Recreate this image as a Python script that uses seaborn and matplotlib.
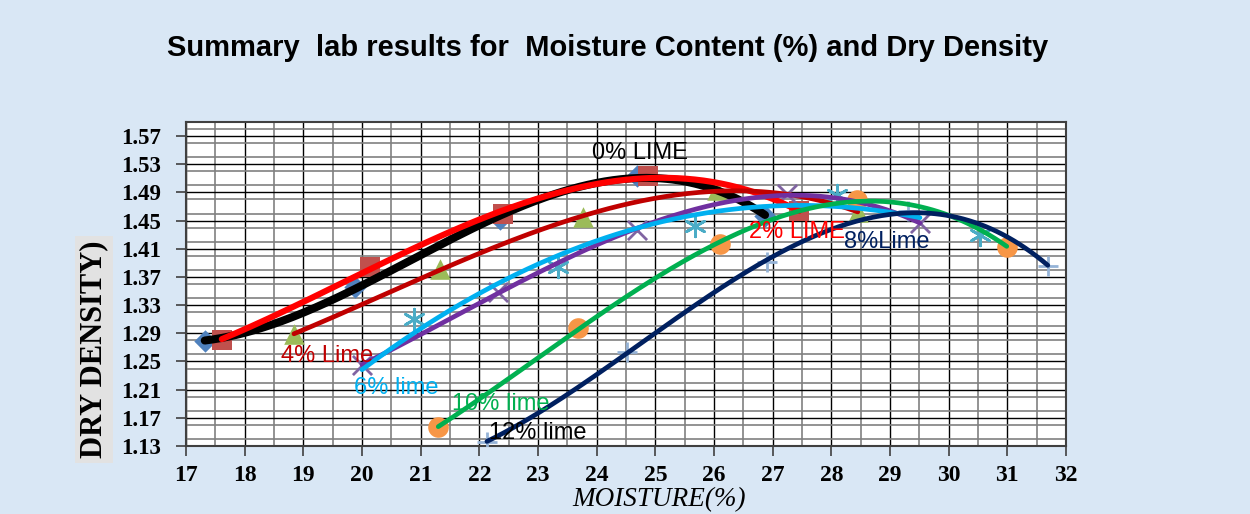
import numpy as np
import pandas as pd
import matplotlib
matplotlib.use("Agg")
import matplotlib.pyplot as plt
import seaborn as sns
from matplotlib.ticker import FixedLocator, MultipleLocator

# ---- lab results: moisture content (%) vs dry density ----
lime0_moist = [17.32, 19.88, 22.35, 24.69, 26.87]
lime0_dens = [1.279, 1.356, 1.452, 1.514, 1.457]

lime2_moist = [17.61, 20.14, 22.40, 24.87, 27.45]
lime2_dens = [1.281, 1.384, 1.460, 1.513, 1.463]

lime4_moist = [18.84, 21.33, 23.77, 26.05, 28.45]
lime4_dens = [1.289, 1.381, 1.455, 1.493, 1.462]

lime6_moist = [20.00, 22.32, 24.69, 27.25, 29.51]
lime6_dens = [1.245, 1.349, 1.436, 1.488, 1.446]

lime8_moist = [20.89, 23.34, 25.68, 28.10, 30.53]
lime8_dens = [1.310, 1.384, 1.443, 1.486, 1.430]

lime10_moist = [21.30, 23.68, 26.10, 28.44, 30.99]
lime10_dens = [1.157, 1.297, 1.417, 1.479, 1.413]

lime12_moist = [22.13, 24.52, 26.90, 29.30, 31.69]
lime12_dens = [1.136, 1.264, 1.391, 1.463, 1.386]

x_ticks = list(range(17, 33))
y_ticks = [1.13, 1.17, 1.21, 1.25, 1.29, 1.33, 1.37, 1.41, 1.45, 1.49, 1.53, 1.57]

BG = "#d9e7f5"

sns.set_theme(style="white")
plt.rcParams["font.family"] = ["Liberation Sans", "DejaVu Sans"]

fig = plt.figure(figsize=(12.5, 5.14), dpi=100, facecolor=BG)
ax = fig.add_axes([0.1488, 0.1323, 0.704, 0.6304])
ax.set_facecolor("white")

# marker series (Excel-like default markers)
marker_series = [
    (lime0_moist, lime0_dens, "D", "#4f81bd", 130),
    (lime2_moist, lime2_dens, "s", "#c0504d", 210),
    (lime4_moist, lime4_dens, "^", "#9bbb59", 220),
    (lime6_moist, lime6_dens, "x", "#8064a2", 190),
    (lime8_moist, lime8_dens, (6, 2, 0), "#4bacc6", 220),
    (lime10_moist, lime10_dens, "o", "#f79646", 220),
    (lime12_moist, lime12_dens, "+", "#95b3d7", 220),
]
for mx, my, mk, col, size in marker_series:
    filled = mk in ("D", "s", "^", "o")
    sns.scatterplot(x=mx, y=my, marker=mk, color=col, s=size, ax=ax,
                    linewidth=0 if filled else 2.0, edgecolor=None if filled else col,
                    zorder=3, legend=False)

# polynomial trendlines over each series' moisture range
trendlines = [
    (lime0_moist, lime0_dens, 3, "#000000", 5.8),
    (lime2_moist, lime2_dens, 3, "#ff0000", 4.4),
    (lime4_moist, lime4_dens, 3, "#c00000", 3.4),
    (lime6_moist, lime6_dens, 3, "#7030a0", 3.4),
    (lime6_moist, lime6_dens, 2, "#00b0f0", 3.4),
    (lime10_moist, lime10_dens, 3, "#00b050", 3.4),
    (lime12_moist, lime12_dens, 3, "#002060", 3.4),
]
for tx, ty, deg, col, lw in trendlines:
    coef = np.polyfit(tx, ty, deg)
    xs = np.linspace(min(tx), max(tx), 200)
    df = pd.DataFrame({"moisture": xs, "density": np.polyval(coef, xs)})
    sns.lineplot(data=df, x="moisture", y="density", color=col, linewidth=lw,
                 ax=ax, sort=False, zorder=4, legend=False, solid_capstyle="round")

# axes, grid
ax.set_xlim(17, 32)
ax.set_ylim(1.13, 1.59)
ax.xaxis.set_major_locator(FixedLocator(x_ticks))
ax.xaxis.set_minor_locator(MultipleLocator(0.5))
ax.yaxis.set_major_locator(FixedLocator(y_ticks))
ax.yaxis.set_minor_locator(MultipleLocator(0.02))
ax.set_xticklabels([str(v) for v in x_ticks])
ax.set_yticklabels([f"{v:.2f}" for v in y_ticks])
ax.grid(which="major", color="#000000", linewidth=1.0, zorder=0)
ax.grid(which="minor", color="#808080", linewidth=1.2, zorder=0)
ax.set_axisbelow(True)
ax.tick_params(axis="both", which="major", direction="out", length=7, width=1.2,
               color="#404040", bottom=True, left=True)
ax.tick_params(axis="x", which="major", pad=7)
ax.tick_params(axis="y", which="major", pad=11)
ax.tick_params(which="minor", length=0)
for lab in ax.get_xticklabels():
    lab.set_fontfamily("Liberation Serif")
    lab.set_fontweight("bold")
    lab.set_fontsize(17)
    lab.set_color("black")
for lab in ax.get_yticklabels():
    lab.set_fontfamily("Liberation Serif")
    lab.set_fontweight("bold")
    lab.set_fontsize(16.5)
    lab.set_color("black")
for sp in ax.spines.values():
    sp.set_color("#404040")
    sp.set_linewidth(1.5)
ax.set_xlabel("")
ax.set_ylabel("")

# curve labels
notes = [
    ("0% LIME", 24.74, 1.546, "#000000"),
    ("2% LIME", 27.42, 1.434, "#ff0000"),
    ("8%Lime", 28.95, 1.420, "#002060"),
    ("4% Lime", 19.40, 1.258, "#c00000"),
    ("6% lime", 20.58, 1.212, "#00b0f0"),
    ("10% lime", 22.37, 1.190, "#00b050"),
    ("12% lime", 23.00, 1.148, "#000000"),
]
for txt, nx, ny, col in notes:
    ax.text(nx, ny, txt, color=col, fontsize=17, ha="center", va="center", zorder=5)

fig.text(0.486, 0.907, "Summary  lab results for  Moisture Content (%) and Dry Density",
         ha="center", va="center", fontsize=21, fontweight="bold", color="black")
fig.text(0.527, 0.004, "MOISTURE(%)", ha="center", va="bottom", fontsize=19.5,
         fontstyle="italic", family="Liberation Serif", color="black")
fig.text(0.075, 0.32, "DRY DENSITY)", ha="center", va="center", rotation=90,
         fontsize=22, fontweight="bold", family="Liberation Serif", color="black",
         bbox=dict(facecolor="#e2e2e2", edgecolor="none", pad=3))

fig.savefig("out.png", dpi=100, facecolor=BG)
